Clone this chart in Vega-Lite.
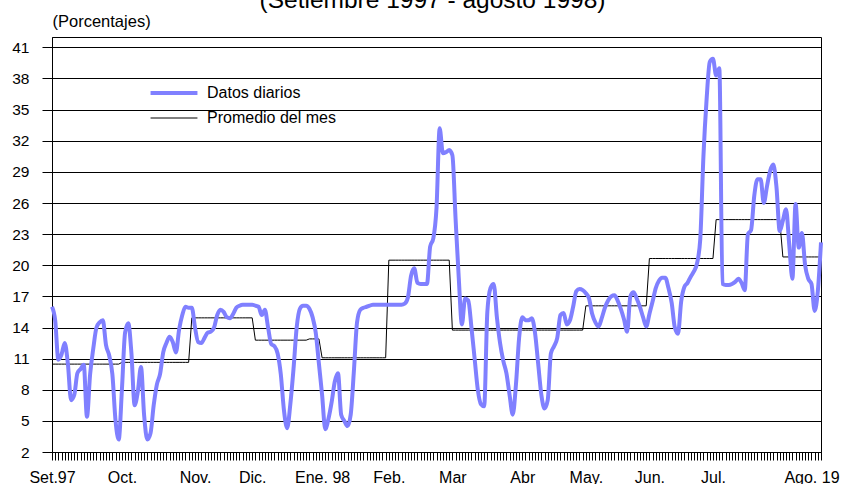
{
 "$schema": "https://vega.github.io/schema/vega-lite/v6.json",
 "width": 769,
 "height": 415,
 "autosize": {"type": "none"},
 "padding": {"left": 52, "top": 37, "right": 34, "bottom": 32},
 "background": "white",
 "config": {"font": "Liberation Sans", "view": {"stroke": "black", "strokeWidth": 1}},
 "title": {"text": "(Setiembre 1997 - agosto 1998)", "fontSize": 24.5, "fontWeight": "normal", "color": "black", "anchor": "middle", "frame": "group", "baseline": "alphabetic", "offset": 0, "dx": -4, "dy": 19},
 "data": {"values": [
{"n":0,"diario":16.0,"promedio":10.47},{"n":1,"diario":14.7,"promedio":10.47},{"n":2,"diario":10.9,"promedio":10.47},{"n":3,"diario":11.4,"promedio":10.47},{"n":4,"diario":12.5,"promedio":10.47},{"n":5,"diario":10.5,"promedio":10.47},{"n":6,"diario":7.0,"promedio":10.47},{"n":7,"diario":7.5,"promedio":10.47},{"n":8,"diario":9.6,"promedio":10.47},{"n":9,"diario":10.0,"promedio":10.47},
{"n":10,"diario":10.4,"promedio":10.47},{"n":11,"diario":5.4,"promedio":10.47},{"n":12,"diario":9.5,"promedio":10.47},{"n":13,"diario":12.0,"promedio":10.47},{"n":14,"diario":14.0,"promedio":10.47},{"n":15,"diario":14.5,"promedio":10.47},{"n":16,"diario":14.7,"promedio":10.47},{"n":17,"diario":12.3,"promedio":10.47},{"n":18,"diario":11.3,"promedio":10.47},{"n":19,"diario":9.5,"promedio":10.47},
{"n":20,"diario":5.0,"promedio":10.47},{"n":21,"diario":3.2,"promedio":10.47},{"n":22,"diario":8.0,"promedio":10.64},{"n":23,"diario":13.5,"promedio":10.64},{"n":24,"diario":14.4,"promedio":10.64},{"n":25,"diario":11.5,"promedio":10.64},{"n":26,"diario":6.5,"promedio":10.64},{"n":27,"diario":7.8,"promedio":10.64},{"n":28,"diario":10.2,"promedio":10.64},{"n":29,"diario":5.5,"promedio":10.64},
{"n":30,"diario":3.2,"promedio":10.64},{"n":31,"diario":3.8,"promedio":10.64},{"n":32,"diario":6.5,"promedio":10.64},{"n":33,"diario":8.5,"promedio":10.64},{"n":34,"diario":9.5,"promedio":10.64},{"n":35,"diario":11.6,"promedio":10.64},{"n":36,"diario":12.5,"promedio":10.64},{"n":37,"diario":13.1,"promedio":10.64},{"n":38,"diario":12.6,"promedio":10.64},{"n":39,"diario":11.6,"promedio":10.64},
{"n":40,"diario":13.8,"promedio":10.64},{"n":41,"diario":15.2,"promedio":10.64},{"n":42,"diario":16.0,"promedio":10.64},{"n":43,"diario":15.9,"promedio":10.64},{"n":44,"diario":15.9,"promedio":14.93},{"n":45,"diario":14.0,"promedio":14.93},{"n":46,"diario":12.6,"promedio":14.93},{"n":47,"diario":12.5,"promedio":14.93},{"n":48,"diario":13.0,"promedio":14.93},{"n":49,"diario":13.5,"promedio":14.93},
{"n":50,"diario":13.6,"promedio":14.93},{"n":51,"diario":14.0,"promedio":14.93},{"n":52,"diario":15.2,"promedio":14.93},{"n":53,"diario":15.7,"promedio":14.93},{"n":54,"diario":15.5,"promedio":14.93},{"n":55,"diario":15.0,"promedio":14.93},{"n":56,"diario":14.9,"promedio":14.93},{"n":57,"diario":15.3,"promedio":14.93},{"n":58,"diario":15.9,"promedio":14.93},{"n":59,"diario":16.1,"promedio":14.93},
{"n":60,"diario":16.2,"promedio":14.93},{"n":61,"diario":16.2,"promedio":14.93},{"n":62,"diario":16.2,"promedio":14.93},{"n":63,"diario":16.2,"promedio":14.93},{"n":64,"diario":16.1,"promedio":12.78},{"n":65,"diario":16.0,"promedio":12.78},{"n":66,"diario":15.2,"promedio":12.78},{"n":67,"diario":15.7,"promedio":12.78},{"n":68,"diario":14.0,"promedio":12.78},{"n":69,"diario":12.4,"promedio":12.78},
{"n":70,"diario":12.2,"promedio":12.78},{"n":71,"diario":11.5,"promedio":12.78},{"n":72,"diario":9.5,"promedio":12.78},{"n":73,"diario":6.0,"promedio":12.78},{"n":74,"diario":4.3,"promedio":12.78},{"n":75,"diario":6.6,"promedio":12.78},{"n":76,"diario":10.0,"promedio":12.78},{"n":77,"diario":14.0,"promedio":12.78},{"n":78,"diario":15.8,"promedio":12.78},{"n":79,"diario":16.1,"promedio":12.78},
{"n":80,"diario":16.1,"promedio":12.78},{"n":81,"diario":15.8,"promedio":12.9},{"n":82,"diario":15.0,"promedio":12.9},{"n":83,"diario":13.5,"promedio":12.9},{"n":84,"diario":10.5,"promedio":12.9},{"n":85,"diario":7.5,"promedio":11.08},{"n":86,"diario":4.2,"promedio":11.08},{"n":87,"diario":5.2,"promedio":11.08},{"n":88,"diario":6.8,"promedio":11.08},{"n":89,"diario":8.8,"promedio":11.08},
{"n":90,"diario":9.6,"promedio":11.08},{"n":91,"diario":5.6,"promedio":11.08},{"n":92,"diario":5.0,"promedio":11.08},{"n":93,"diario":4.5,"promedio":11.08},{"n":94,"diario":5.6,"promedio":11.08},{"n":95,"diario":9.8,"promedio":11.08},{"n":96,"diario":14.5,"promedio":11.08},{"n":97,"diario":15.7,"promedio":11.08},{"n":98,"diario":15.9,"promedio":11.08},{"n":99,"diario":16.0,"promedio":11.08},
{"n":100,"diario":16.1,"promedio":11.08},{"n":101,"diario":16.2,"promedio":11.08},{"n":102,"diario":16.2,"promedio":11.08},{"n":103,"diario":16.2,"promedio":11.08},{"n":104,"diario":16.2,"promedio":11.08},{"n":105,"diario":16.2,"promedio":11.08},{"n":106,"diario":16.2,"promedio":20.49},{"n":107,"diario":16.2,"promedio":20.49},{"n":108,"diario":16.2,"promedio":20.49},{"n":109,"diario":16.2,"promedio":20.49},
{"n":110,"diario":16.2,"promedio":20.49},{"n":111,"diario":16.3,"promedio":20.49},{"n":112,"diario":16.9,"promedio":20.49},{"n":113,"diario":19.0,"promedio":20.49},{"n":114,"diario":19.7,"promedio":20.49},{"n":115,"diario":18.3,"promedio":20.49},{"n":116,"diario":18.2,"promedio":20.49},{"n":117,"diario":18.2,"promedio":20.49},{"n":118,"diario":18.2,"promedio":20.49},{"n":119,"diario":21.8,"promedio":20.49},
{"n":120,"diario":22.6,"promedio":20.49},{"n":121,"diario":25.5,"promedio":20.49},{"n":122,"diario":33.2,"promedio":20.49},{"n":123,"diario":30.8,"promedio":20.49},{"n":124,"diario":30.9,"promedio":20.49},{"n":125,"diario":31.1,"promedio":20.49},{"n":126,"diario":30.6,"promedio":13.75},{"n":127,"diario":24.5,"promedio":13.75},{"n":128,"diario":18.8,"promedio":13.75},{"n":129,"diario":14.3,"promedio":13.75},
{"n":130,"diario":16.8,"promedio":13.75},{"n":131,"diario":16.6,"promedio":13.75},{"n":132,"diario":14.0,"promedio":13.75},{"n":133,"diario":11.0,"promedio":13.75},{"n":134,"diario":8.0,"promedio":13.75},{"n":135,"diario":6.6,"promedio":13.75},{"n":136,"diario":6.4,"promedio":13.75},{"n":137,"diario":15.5,"promedio":13.75},{"n":138,"diario":17.8,"promedio":13.75},{"n":139,"diario":18.2,"promedio":13.75},
{"n":140,"diario":15.0,"promedio":13.75},{"n":141,"diario":12.5,"promedio":13.75},{"n":142,"diario":10.8,"promedio":13.75},{"n":143,"diario":9.6,"promedio":13.75},{"n":144,"diario":7.5,"promedio":13.75},{"n":145,"diario":5.6,"promedio":13.75},{"n":146,"diario":8.5,"promedio":13.75},{"n":147,"diario":13.0,"promedio":13.75},{"n":148,"diario":15.0,"promedio":13.75},{"n":149,"diario":14.7,"promedio":13.75},
{"n":150,"diario":14.7,"promedio":13.75},{"n":151,"diario":14.9,"promedio":13.75},{"n":152,"diario":13.5,"promedio":13.75},{"n":153,"diario":10.5,"promedio":13.75},{"n":154,"diario":7.5,"promedio":13.75},{"n":155,"diario":6.2,"promedio":13.75},{"n":156,"diario":7.0,"promedio":13.75},{"n":157,"diario":11.5,"promedio":13.75},{"n":158,"diario":12.2,"promedio":13.75},{"n":159,"diario":13.0,"promedio":13.75},
{"n":160,"diario":15.2,"promedio":13.75},{"n":161,"diario":15.4,"promedio":13.75},{"n":162,"diario":14.3,"promedio":13.75},{"n":163,"diario":14.7,"promedio":13.75},{"n":164,"diario":16.0,"promedio":13.75},{"n":165,"diario":17.5,"promedio":13.75},{"n":166,"diario":17.7,"promedio":13.75},{"n":167,"diario":17.6,"promedio":13.75},{"n":168,"diario":17.3,"promedio":16.09},{"n":169,"diario":16.8,"promedio":16.09},
{"n":170,"diario":15.3,"promedio":16.09},{"n":171,"diario":14.5,"promedio":16.09},{"n":172,"diario":14.1,"promedio":16.09},{"n":173,"diario":14.9,"promedio":16.09},{"n":174,"diario":15.9,"promedio":16.09},{"n":175,"diario":16.6,"promedio":16.09},{"n":176,"diario":17.0,"promedio":16.09},{"n":177,"diario":17.1,"promedio":16.09},{"n":178,"diario":16.6,"promedio":16.09},{"n":179,"diario":15.8,"promedio":16.09},
{"n":180,"diario":14.8,"promedio":16.09},{"n":181,"diario":13.6,"promedio":16.09},{"n":182,"diario":17.0,"promedio":16.09},{"n":183,"diario":17.4,"promedio":16.09},{"n":184,"diario":16.8,"promedio":16.09},{"n":185,"diario":16.0,"promedio":16.09},{"n":186,"diario":15.0,"promedio":16.09},{"n":187,"diario":14.1,"promedio":16.09},{"n":188,"diario":15.3,"promedio":20.65},{"n":189,"diario":16.5,"promedio":20.65},
{"n":190,"diario":17.8,"promedio":20.65},{"n":191,"diario":18.5,"promedio":20.65},{"n":192,"diario":18.8,"promedio":20.65},{"n":193,"diario":18.8,"promedio":20.65},{"n":194,"diario":17.8,"promedio":20.65},{"n":195,"diario":16.4,"promedio":20.65},{"n":196,"diario":14.0,"promedio":20.65},{"n":197,"diario":13.4,"promedio":20.65},{"n":198,"diario":16.5,"promedio":20.65},{"n":199,"diario":17.9,"promedio":20.65},
{"n":200,"diario":18.3,"promedio":20.65},{"n":201,"diario":18.9,"promedio":20.65},{"n":202,"diario":19.4,"promedio":20.65},{"n":203,"diario":20.2,"promedio":20.65},{"n":204,"diario":22.5,"promedio":20.65},{"n":205,"diario":30.5,"promedio":20.65},{"n":206,"diario":36.0,"promedio":20.65},{"n":207,"diario":39.6,"promedio":20.65},{"n":208,"diario":39.9,"promedio":20.65},{"n":209,"diario":38.3,"promedio":24.4},
{"n":210,"diario":39.0,"promedio":24.4},{"n":211,"diario":18.2,"promedio":24.4},{"n":212,"diario":18.1,"promedio":24.4},{"n":213,"diario":18.1,"promedio":24.4},{"n":214,"diario":18.2,"promedio":24.4},{"n":215,"diario":18.4,"promedio":24.4},{"n":216,"diario":18.7,"promedio":24.4},{"n":217,"diario":18.3,"promedio":24.4},{"n":218,"diario":17.6,"promedio":24.4},{"n":219,"diario":23.0,"promedio":24.4},
{"n":220,"diario":23.4,"promedio":24.4},{"n":221,"diario":26.7,"promedio":24.4},{"n":222,"diario":28.3,"promedio":24.4},{"n":223,"diario":28.3,"promedio":24.4},{"n":224,"diario":26.0,"promedio":24.4},{"n":225,"diario":27.6,"promedio":24.4},{"n":226,"diario":29.1,"promedio":24.4},{"n":227,"diario":29.7,"promedio":24.4},{"n":228,"diario":27.5,"promedio":24.4},{"n":229,"diario":23.3,"promedio":24.4},
{"n":230,"diario":24.3,"promedio":20.8},{"n":231,"diario":25.4,"promedio":20.8},{"n":232,"diario":22.0,"promedio":20.8},{"n":233,"diario":18.7,"promedio":20.8},{"n":234,"diario":25.9,"promedio":20.8},{"n":235,"diario":21.7,"promedio":20.8},{"n":236,"diario":23.1,"promedio":20.8},{"n":237,"diario":20.0,"promedio":20.8},{"n":238,"diario":18.7,"promedio":20.8},{"n":239,"diario":18.2,"promedio":20.8},
{"n":240,"diario":15.6,"promedio":20.8},{"n":241,"diario":17.5,"promedio":20.8},{"n":242,"diario":22.2,"promedio":20.8}
 ]},
 "transform": [{"fold": ["diario", "promedio"], "as": ["serie", "valor"]}],
 "encoding": {
  "x": {"field": "n", "type": "ordinal", "scale": {"type": "point", "padding": 0},
   "axis": {"title": null, "labelAngle": 0, "labelOverlap": false, "labelFontSize": 16, "labelColor": "black", "labelPadding": 9, "tickSize": 8, "tickColor": "black", "domainColor": "black", "grid": false,
    "labelExpr": "datum.value == 0 ? 'Set.97' : datum.value == 22 ? 'Oct.' : datum.value == 45 ? 'Nov.' : datum.value == 63 ? 'Dic.' : datum.value == 85 ? 'Ene. 98' : datum.value == 106 ? 'Feb.' : datum.value == 126 ? 'Mar' : datum.value == 148 ? 'Abr' : datum.value == 168 ? 'May.' : datum.value == 188 ? 'Jun.' : datum.value == 208 ? 'Jul.' : datum.value == 239 ? 'Ago. 19' : ''"}},
  "y": {"field": "valor", "type": "quantitative", "scale": {"domain": [2, 42], "nice": false, "zero": false},
   "axis": {"values": [2, 5, 8, 11, 14, 17, 20, 23, 26, 29, 32, 35, 38, 41], "title": "(Porcentajes)", "titleAngle": 0, "titleAlign": "left", "titleBaseline": "alphabetic", "titleX": 0, "titleY": -11, "titleFontSize": 16.5, "titleFontWeight": "normal", "titleColor": "black", "tickSize": 10, "tickColor": "black", "domainColor": "black", "grid": true, "gridColor": "black", "gridOpacity": 1, "labelFontSize": 15.5, "labelColor": "black", "labelPadding": 13}},
  "color": {"field": "serie", "type": "nominal", "scale": {"domain": ["diario", "promedio"], "range": ["#8080ff", "#000000"]},
   "legend": {"title": null, "orient": "none", "legendX": 114, "legendY": 48, "padding": 0, "symbolType": "stroke", "symbolSize": 2200, "symbolStrokeWidth": 4, "labelFontSize": 16, "labelColor": "black", "labelOffset": 25, "rowPadding": 9,
    "labelExpr": "datum.label == 'diario' ? 'Datos diarios' : 'Promedio del mes'",
    "encode": {"symbols": {"update": {"strokeWidth": {"signal": "datum.value == 'diario' ? 4 : 1"}}}}}}
 },
 "layer": [
  {"transform": [{"filter": "datum.serie == 'promedio'"}], "mark": {"type": "line", "strokeWidth": 1}},
  {"transform": [{"filter": "datum.serie == 'diario'"}], "mark": {"type": "line", "strokeWidth": 4, "interpolate": "monotone"}}
 ]
}
